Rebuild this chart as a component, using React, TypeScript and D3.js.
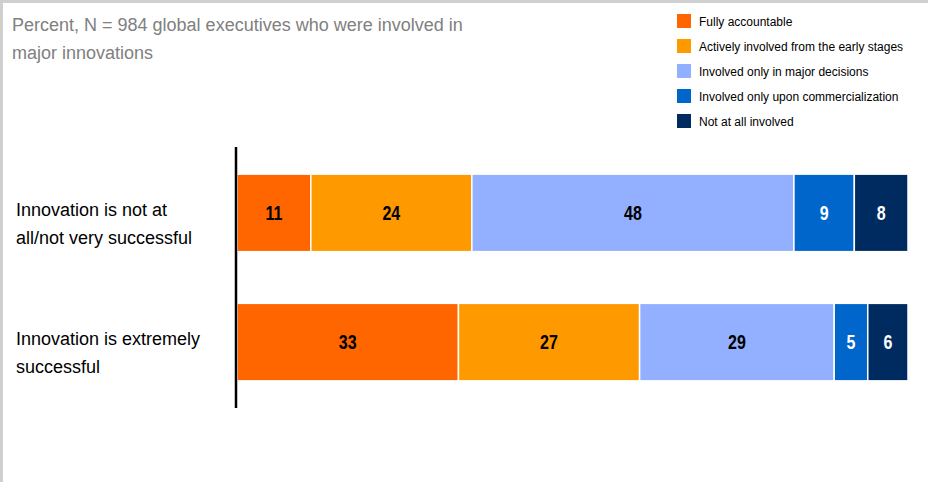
import React, { useEffect, useRef } from 'react';
import * as d3 from 'd3';

const categories = ['Innovation is not at all/not very successful', 'Innovation is extremely successful'];
const categoryLines = [
  ['Innovation is not at', 'all/not very successful'],
  ['Innovation is extremely', 'successful'],
];
const seriesNames = [
  'Fully accountable',
  'Actively involved from the early stages',
  'Involved only in major decisions',
  'Involved only upon commercialization',
  'Not at all involved',
];
const seriesColors = ['#FF6600', '#FF9900', '#92B0FF', '#0066CC', '#002B60'];
const labelColors = ['#000', '#000', '#000', '#fff', '#fff'];
const values = [
  [11, 24, 48, 9, 8],
  [33, 27, 29, 5, 6],
];
const titleLines = ['Percent, N = 984 global executives who were involved in', 'major innovations'];

const App: React.FC = () => {
  const svgRef = useRef<SVGSVGElement>(null);

  useEffect(() => {
    if (!svgRef.current) return;
    const width = 928;
    const height = 482;
    const svg = d3.select(svgRef.current).attr('viewBox', `0 0 ${width} ${height}`).html('');
    const font = 'Liberation Sans, Arial, sans-serif';

    svg.append('rect').attr('width', width).attr('height', height).attr('fill', '#fff');
    // frame on left & top
    svg.append('rect').attr('x', 0).attr('y', 0).attr('width', width).attr('height', 3).attr('fill', '#cfcfcf');
    svg.append('rect').attr('x', 0).attr('y', 0).attr('width', 3).attr('height', height).attr('fill', '#cfcfcf');

    // title
    titleLines.forEach((t, i) => {
      svg.append('text')
        .attr('x', 12).attr('y', 31 + i * 28)
        .attr('fill', '#808080').attr('font-family', font).attr('font-size', '18px')
        .text(t);
    });

    // legend
    seriesNames.forEach((name, i) => {
      const y = 14 + i * 25;
      svg.append('rect').attr('x', 677).attr('y', y).attr('width', 14).attr('height', 14).attr('fill', seriesColors[i]);
      svg.append('text')
        .attr('x', 699).attr('y', y + 11.5)
        .attr('fill', '#000').attr('font-family', font).attr('font-size', '12px')
        .text(name);
    });

    const x = d3.scaleLinear().domain([0, 100]).range([237, 908]);
    const y = d3.scaleBand<string>().domain(categories).range([147, 408]).paddingInner(0.4).paddingOuter(0.21);

    const stack = d3.stack<number[]>().keys(seriesNames.map((_, i) => String(i))).value((d, k) => d[+k]);
    const stacked = stack(values);

    stacked.forEach((layer, si) => {
      layer.forEach((seg, ci) => {
        const yy = y(categories[ci])!;
        const x0 = x(seg[0]);
        const x1 = x(seg[1]);
        svg.append('rect')
          .attr('x', x0).attr('y', yy)
          .attr('width', x1 - x0).attr('height', y.bandwidth())
          .attr('fill', seriesColors[si])
          .attr('stroke', '#fff').attr('stroke-width', 1.5);
        // narrow bold look: horizontally squeezed
        svg.append('text')
          .attr('transform', `translate(${(x0 + x1) / 2},${yy + y.bandwidth() / 2 + 7}) scale(0.8,1)`)
          .attr('text-anchor', 'middle')
          .attr('fill', labelColors[si]).attr('font-family', font)
          .attr('font-size', '20px').attr('font-weight', 'bold')
          .text(values[ci][si]);
      });
    });

    // axis line
    svg.append('line').attr('x1', 236).attr('x2', 236).attr('y1', 147).attr('y2', 408)
      .attr('stroke', '#000').attr('stroke-width', 2.5);

    // category labels
    categories.forEach((c, ci) => {
      const cy = y(c)! + y.bandwidth() / 2;
      categoryLines[ci].forEach((line, li) => {
        svg.append('text')
          .attr('x', 16).attr('y', cy + 3 + li * 28)
          .attr('fill', '#000').attr('font-family', font).attr('font-size', '18px')
          .text(line);
      });
    });
  }, []);

  return (
    <svg ref={svgRef} width={928} height={482} style={{ position: 'absolute', left: 0, top: 0 }}></svg>
  );
};

export default App;
